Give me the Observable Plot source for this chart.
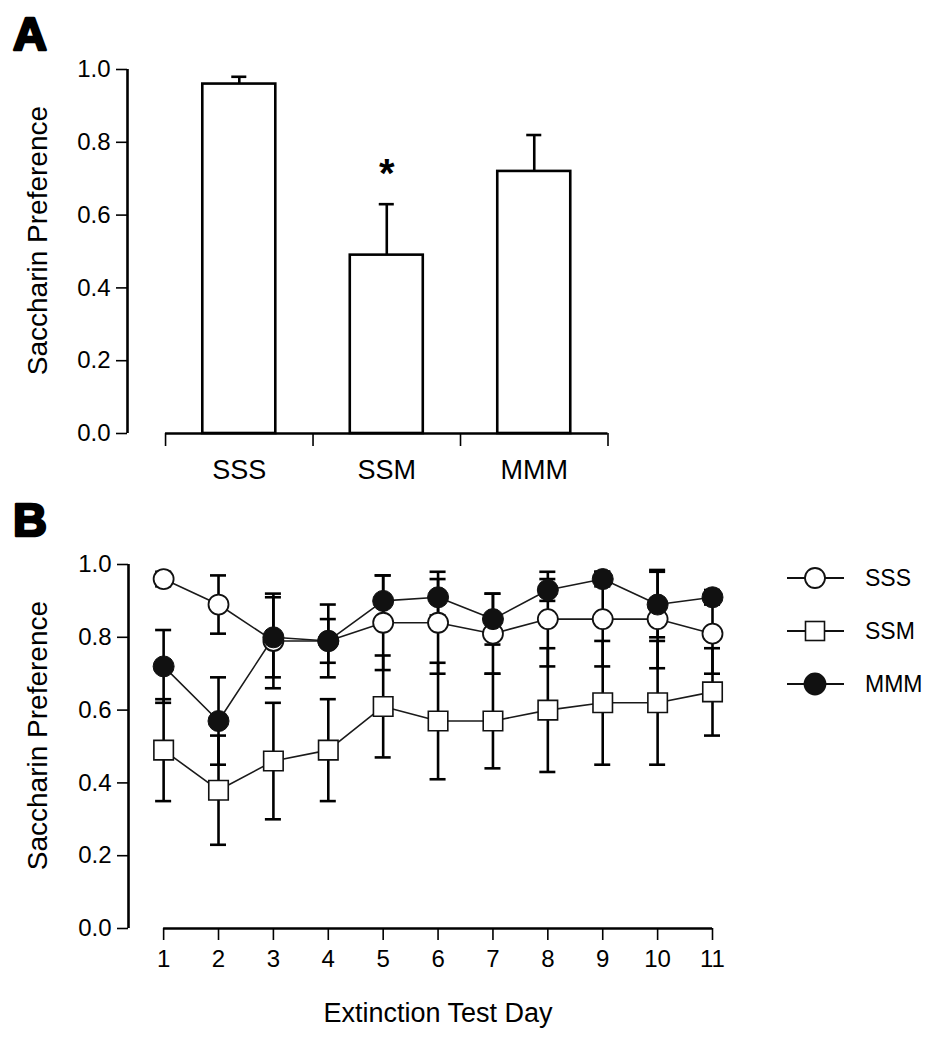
<!DOCTYPE html>
<html>
<head>
<meta charset="utf-8">
<script src="https://cdn.jsdelivr.net/npm/d3@7"></script>
<script src="https://cdn.jsdelivr.net/npm/@observablehq/plot@0.6"></script>
<style>
  html, body { margin: 0; padding: 0; background: #fff; }
  #wrap { position: relative; width: 946px; height: 1050px; overflow: hidden; background: #fff; }
  #wrap > * { position: absolute; left: 0; }
</style>
</head>
<body>
<div id="wrap"></div>
<script>
// ---------- Panel A data ----------
const groups = ["SSS", "SSM", "MMM"];
const barMeans = [0.96, 0.49, 0.72];
const barSems = [0.02, 0.14, 0.10];
const sigLabels = ["", "*", ""];
const yTicks = [0, 0.2, 0.4, 0.6, 0.8, 1.0];

// ---------- Panel B data ----------
const days = [1, 2, 3, 4, 5, 6, 7, 8, 9, 10, 11];
const seriesNames = ["SSS", "SSM", "MMM"];
const sssMean = [0.96, 0.89, 0.79, 0.79, 0.84, 0.84, 0.81, 0.85, 0.85, 0.85, 0.81];
const sssSem  = [0.02, 0.08, 0.13, 0.06, 0.13, 0.14, 0.11, 0.13, 0.13, 0.135, 0.11];
const ssmMean = [0.49, 0.38, 0.46, 0.49, 0.61, 0.57, 0.57, 0.60, 0.62, 0.62, 0.65];
const ssmSem  = [0.14, 0.15, 0.16, 0.14, 0.14, 0.16, 0.13, 0.17, 0.17, 0.17, 0.12];
const mmmMean = [0.72, 0.57, 0.80, 0.79, 0.90, 0.91, 0.85, 0.93, 0.96, 0.89, 0.91];
const mmmSem  = [0.10, 0.12, 0.11, 0.10, 0.07, 0.05, 0.07, 0.03, 0.02, 0.09, 0.02];
const xTitle = "Extinction Test Day";
const yTitle = "Saccharin Preference";

const FONT = '"Liberation Sans", Arial, Helvetica, sans-serif';
const wrap = document.getElementById("wrap");

// tables
const barData = groups.map((g, i) => ({group: g, idx: i, mean: barMeans[i], sem: barSems[i], sig: sigLabels[i]}));
const meansBy = {SSS: sssMean, SSM: ssmMean, MMM: mmmMean};
const semsBy = {SSS: sssSem, SSM: ssmSem, MMM: mmmSem};
const lineData = seriesNames.flatMap(s => days.map((d, i) => ({
  series: s, day: d, mean: meansBy[s][i], lo: meansBy[s][i] - semsBy[s][i], hi: meansBy[s][i] + semsBy[s][i]
})));
const bySeries = s => lineData.filter(d => d.series === s);

const AX = 2.6, TK = 1.6;

// ---------- Panel A ----------
const halfBar = 0.2475, capA = 0.051, xLeftA = -0.258;
const plotA = Plot.plot({
  width: 946, height: 500,
  marginLeft: 127, marginRight: 338.5, marginTop: 69, marginBottom: 67,
  style: {fontFamily: FONT, fontSize: "24px", color: "black", background: "white"},
  x: {domain: [xLeftA, groups.length]},
  y: {domain: [0, 1]},
  marks: [
    Plot.ruleX([xLeftA], {strokeWidth: AX}),
    Plot.axisY({ticks: yTicks, tickFormat: d3.format(".1f"), tickSize: 11, tickPadding: 6, strokeWidth: TK, label: null, fontSize: 24}),
    Plot.ruleY([0], {x1: () => 0, x2: () => groups.length, strokeWidth: AX}),
    Plot.axisX({ticks: d3.range(groups.length + 1), tickSize: 13, tickFormat: () => "", strokeWidth: TK, label: null}),
    Plot.ruleX(barData, {x: d => d.idx + 0.5, y1: d => d.mean, y2: d => d.mean + d.sem, strokeWidth: AX}),
    Plot.ruleY(barData, {y: d => d.mean + d.sem, x1: d => d.idx + 0.5 - capA, x2: d => d.idx + 0.5 + capA, strokeWidth: AX}),
    Plot.rectY(barData, {x1: d => d.idx + 0.5 - halfBar, x2: d => d.idx + 0.5 + halfBar, y1: () => 0, y2: d => d.mean,
      fill: "white", stroke: "black", strokeWidth: AX}),
    Plot.text(barData, {x: d => d.idx + 0.5, frameAnchor: "bottom", text: "group", lineAnchor: "top", dy: 26, fontSize: 27}),
    Plot.text(barData.filter(d => d.sig), {x: d => d.idx + 0.5, y: d => d.mean + d.sem, text: "sig", dy: -30, fontSize: 40, fontWeight: "bold"}),
    Plot.text([yTitle], {frameAnchor: "left", textAnchor: "middle", y: () => 0.53, rotate: -90, dx: -89, fontSize: 28})
  ]
});
plotA.style.top = "0px";
wrap.appendChild(plotA);

// ---------- Panel B ----------
const capB = 0.146, xLeftB = 0.36;
const plotB = Plot.plot({
  width: 946, height: 550,
  marginLeft: 128, marginRight: 234, marginTop: 64, marginBottom: 122,
  style: {fontFamily: FONT, fontSize: "24px", color: "black", background: "white"},
  x: {domain: [xLeftB, days[days.length - 1]]},
  y: {domain: [0, 1]},
  marks: [
    Plot.ruleX([xLeftB], {strokeWidth: AX}),
    Plot.axisY({ticks: yTicks, tickFormat: d3.format(".1f"), tickSize: 11, tickPadding: 6, strokeWidth: TK, label: null, fontSize: 24}),
    Plot.ruleY([0], {x1: () => days[0], x2: () => days[days.length - 1], strokeWidth: AX}),
    Plot.axisX({ticks: days, tickFormat: d3.format("d"), tickSize: 12, tickPadding: 9, strokeWidth: TK, label: null, fontSize: 24}),
    // error bars
    Plot.ruleX(lineData, {x: "day", y1: "lo", y2: "hi", strokeWidth: AX}),
    Plot.ruleY(lineData, {y: "hi", x1: d => d.day - capB, x2: d => d.day + capB, strokeWidth: AX}),
    Plot.ruleY(lineData, {y: "lo", x1: d => d.day - capB, x2: d => d.day + capB, strokeWidth: AX}),
    // lines
    Plot.line(lineData, {x: "day", y: "mean", z: "series", stroke: "#1a1a1a", strokeWidth: 1.6}),
    // markers
    Plot.dot(bySeries("SSM"), {x: "day", y: "mean", symbol: "square", r: 11, fill: "white", stroke: "#111", strokeWidth: 1.6}),
    Plot.dot(bySeries("SSS"), {x: "day", y: "mean", r: 10, fill: "white", stroke: "#111", strokeWidth: 1.8}),
    Plot.dot(bySeries("MMM"), {x: "day", y: "mean", r: 10.5, fill: "#111", stroke: "#111", strokeWidth: 1}),
    // titles
    Plot.text([xTitle], {x: () => (days[0] + days[days.length - 1]) / 2, frameAnchor: "bottom", lineAnchor: "top", dy: 74, fontSize: 27}),
    Plot.text([yTitle], {frameAnchor: "left", textAnchor: "middle", y: () => 0.53, rotate: -90, dx: -90, fontSize: 28})
  ]
});
plotB.style.top = "500px";
wrap.appendChild(plotB);

// ---------- Overlay: panel letters + legend ----------
const svg = d3.select(wrap).append("svg")
  .attr("width", 946).attr("height", 1050)
  .style("top", "0px").style("pointer-events", "none")
  .style("font-family", FONT);

svg.selectAll("text.panel").data([{t: "A", y: 50}, {t: "B", y: 536}]).join("text")
  .attr("class", "panel").attr("x", 13).attr("y", d => d.y)
  .attr("font-size", 47).attr("font-weight", "bold")
  .attr("stroke", "black").attr("stroke-width", 2.6).attr("stroke-linejoin", "round").attr("fill", "black")
  .text(d => d.t);

const legendRowY = d3.scalePoint().domain(seriesNames).range([578, 684]);
const lg = svg.selectAll("g.leg").data(seriesNames).join("g")
  .attr("class", "leg").attr("transform", d => `translate(0,${legendRowY(d)})`);
lg.append("line").attr("x1", 787).attr("x2", 844).attr("stroke", "#111").attr("stroke-width", 2);
lg.each(function(d) {
  const g = d3.select(this);
  if (d === "SSM") {
    g.append("rect").attr("x", 815 - 9.5).attr("y", -9.5).attr("width", 19).attr("height", 19)
      .attr("fill", "white").attr("stroke", "#111").attr("stroke-width", 1.6);
  } else {
    g.append("circle").attr("cx", 815).attr("r", d === "MMM" ? 10.5 : 10)
      .attr("fill", d === "MMM" ? "#111" : "white").attr("stroke", "#111").attr("stroke-width", 1.8);
  }
});
lg.append("text").attr("x", 865).attr("y", 8).attr("font-size", 23).attr("fill", "black").text(d => d);
</script>
</body>
</html>
